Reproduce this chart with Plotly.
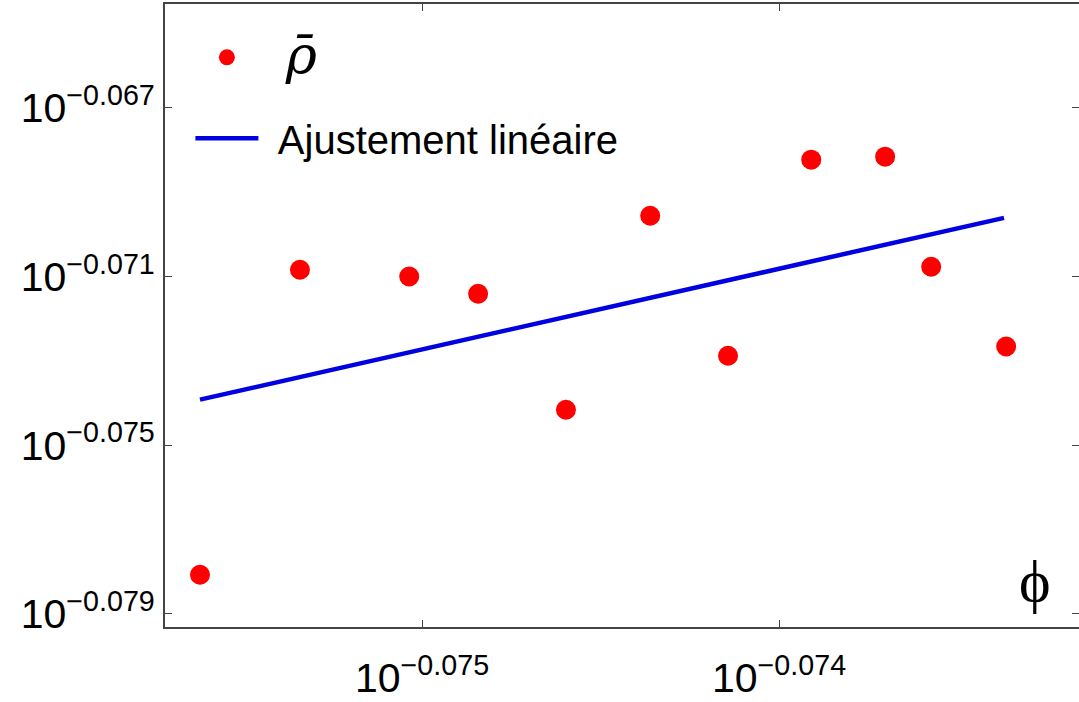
import plotly.graph_objects as go

# values (log10 of the quantities, since both axes are logarithmic)
log_phi = [-0.075622, -0.075342, -0.075036, -0.074843, -0.074597, -0.074361,
           -0.074143, -0.073910, -0.073703, -0.073574, -0.073364]
log_rho = [-0.07807, -0.07084, -0.07100, -0.07141, -0.07416, -0.06956,
           -0.07288, -0.06823, -0.06816, -0.07077, -0.07266]
fit_log_phi = [-0.075622, -0.073370]
fit_log_rho = [-0.07392, -0.06961]

x_ticks = [-0.075, -0.074]
x_ticklabels = ["10<sup>\u22120.075</sup>", "10<sup>\u22120.074</sup>"]
y_ticks = [-0.079, -0.075, -0.071, -0.067]
y_ticklabels = ["10<sup>\u22120.079</sup>", "10<sup>\u22120.075</sup>",
                "10<sup>\u22120.071</sup>", "10<sup>\u22120.067</sup>"]

fig = go.Figure()
fig.add_trace(go.Scatter(
    x=log_phi, y=log_rho, mode="markers",
    name="\u00a0\u00a0<span style='font-family:\"DejaVu Serif\", serif; font-size:53px'><i>\u03c1\u0304</i></span>",
    marker=dict(color="#ff0000", size=20, line=dict(width=0)),
    legendgroup="a",
))
fig.add_trace(go.Scatter(
    x=fit_log_phi, y=fit_log_rho, mode="lines", name="\u00a0\u200aAjustement lin\u00e9aire",
    line=dict(color="#0000e0", width=4.5),
    legendgroup="b",
))

axis_common = dict(
    showline=True, linecolor="#444", linewidth=2, mirror="ticks",
    ticks="inside", ticklen=7, tickcolor="#444", tickwidth=1,
    showgrid=False, zeroline=False, automargin=False,
    tickfont=dict(family="Liberation Sans, Arial, sans-serif", size=41, color="black"),
)

fig.update_layout(
    width=1079, height=702,
    margin=dict(l=165, r=0, t=4, b=75),
    paper_bgcolor="white", plot_bgcolor="white",
    xaxis=dict(range=[-0.07572, -0.07316], tickvals=x_ticks, ticktext=x_ticklabels,
               ticklabelstandoff=14, **axis_common),
    yaxis=dict(range=[-0.07931, -0.06454], tickvals=y_ticks, ticktext=y_ticklabels, **axis_common),
    legend=dict(
        x=0.0278, y=0.9665, xanchor="left", yanchor="top",
        bgcolor="rgba(0,0,0,0)",
        font=dict(family="Liberation Sans, Arial, sans-serif", size=40, color="black"),
        tracegroupgap=26, itemwidth=63,
    ),
    showlegend=True,
    annotations=[dict(
        x=0.9715, y=0.017, xref="paper", yref="paper", text="\u03d5",
        showarrow=False, font=dict(family="Liberation Serif, serif", size=60, color="black"),
    )],
)

fig.write_html("out.html", config={"displayModeBar": False},
               post_script="document.body.style.margin='0';")
